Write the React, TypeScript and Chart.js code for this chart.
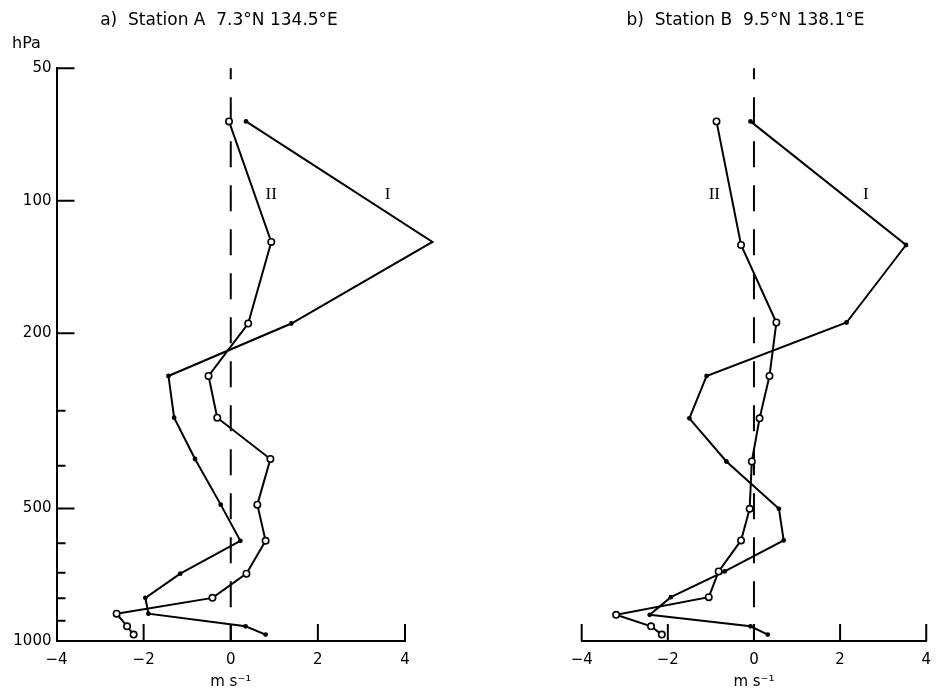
import React, { useEffect, useRef } from 'react';
import { Chart, registerables } from 'chart.js';
Chart.register(...registerables);

// ---- data ----
const pressureA = [66, 124, 190, 250, 311, 386, 490, 592, 703, 798, 867, 926, 967];
const pressureB = [66, 126, 189, 250, 312, 391, 501, 591, 695, 795, 872, 926, 967];
const stationA_I = [0.35, 4.63, 1.39, -1.43, -1.3, -0.82, -0.23, 0.22, -1.16, -1.96, -1.89, 0.34, 0.8];
const stationA_II = [-0.04, 0.93, 0.4, -0.51, -0.31, 0.91, 0.61, 0.8, 0.36, -0.42, -2.62, -2.38, -2.23];
const stationB_I = [-0.08, 3.53, 2.15, -1.1, -1.5, -0.64, 0.58, 0.69, -0.68, -1.93, -2.42, -0.08, 0.32];
const stationB_II = [-0.87, -0.3, 0.52, 0.36, 0.13, -0.05, -0.1, -0.3, -0.82, -1.05, -3.2, -2.39, -2.14];
const xTicks = [-4, -2, 0, 2, 4];
const yMajorTicks = [50, 100, 200, 500, 1000];
const yMinorTicks = [300, 400, 600, 700, 800, 900];
const titleA = 'a)  Station A  7.3°N 134.5°E';
const titleB = 'b)  Station B  9.5°N 138.1°E';
const unitX = 'm s⁻¹';
const unitY = 'hPa';
const curveLabelsA = [
  { text: 'II', x: 0.93, p: 97 },
  { text: 'I', x: 3.6, p: 97 },
];
const curveLabelsB = [
  { text: 'II', x: -0.92, p: 97 },
  { text: 'I', x: 2.6, p: 97 },
];

Chart.defaults.font.family = '"DejaVu Sans", sans-serif';
Chart.defaults.color = '#000';

const fmtMinus = (v: number) => (v < 0 ? '\u2212' + Math.abs(v) : String(v));

const decorPlugin = {
  id: 'decor',
  beforeDatasetsDraw(chart: any) {
    const { ctx, chartArea, scales } = chart;
    const x0 = scales.x.getPixelForValue(0);
    ctx.save();
    ctx.strokeStyle = '#000';
    ctx.lineWidth = 2;
    ctx.setLineDash([26, 18]);
    ctx.lineDashOffset = 15;
    ctx.beginPath();
    ctx.moveTo(x0, chartArea.top);
    ctx.lineTo(x0, chartArea.bottom);
    ctx.stroke();
    ctx.restore();
  },
  afterDatasetsDraw(chart: any, _args: any, opts: any) {
    const { ctx, chartArea, scales } = chart;
    const xs = scales.x;
    const ys = scales.y;
    ctx.save();
    ctx.strokeStyle = '#000';
    ctx.lineWidth = 2;
    ctx.beginPath();
    for (const v of xTicks) {
      if (opts.showY && v === -4) continue;
      const px = xs.getPixelForValue(v);
      ctx.moveTo(px, chartArea.bottom);
      ctx.lineTo(px, chartArea.bottom - 17);
    }
    if (opts.showY) {
      for (const v of yMajorTicks) {
        const py = ys.getPixelForValue(v);
        ctx.moveTo(chartArea.left, py);
        ctx.lineTo(chartArea.left + 18, py);
      }
      for (const v of yMinorTicks) {
        const py = ys.getPixelForValue(v);
        ctx.moveTo(chartArea.left, py);
        ctx.lineTo(chartArea.left + 9, py);
      }
    }
    ctx.stroke();
    ctx.fillStyle = '#000';
    ctx.font = '17px "Liberation Serif", serif';
    ctx.textAlign = 'center';
    ctx.textBaseline = 'middle';
    for (const lab of opts.labels || []) {
      ctx.fillText(lab.text, xs.getPixelForValue(lab.x), ys.getPixelForValue(lab.p));
    }
    if (opts.showY) {
      ctx.font = '16px "DejaVu Sans", sans-serif';
      ctx.textAlign = 'left';
      ctx.textBaseline = 'alphabetic';
      ctx.fillText(unitY, 12, 48);
    }
    ctx.restore();
  },
};

function makeConfig(
  title: string,
  pressure: number[],
  seriesI: number[],
  seriesII: number[],
  labels: any[],
  showY: boolean,
  padLeft: number,
  padRight: number,
  yWidth: number,
  y2Width: number
): any {
  const ptsI = seriesI.map((v, i) => ({ x: v, y: pressure[i] }));
  const ptsII = seriesII.map((v, i) => ({ x: v, y: pressure[i] }));
  const scales: any = {
    x: {
      type: 'linear',
      min: -4,
      max: 4,
      afterBuildTicks: (s: any) => {
        s.ticks = xTicks.map((v) => ({ value: v }));
      },
      afterFit: (s: any) => {
        s.height = 51;
      },
      grid: { display: false, drawTicks: false },
      border: { display: true, color: '#000', width: 2 },
      ticks: {
        padding: 10,
        font: { size: 15 },
        color: '#000',
        maxRotation: 0,
        autoSkip: false,
        callback: (v: any) => fmtMinus(Number(v)),
      },
      title: {
        display: true,
        text: unitX,
        color: '#000',
        font: { size: 15 },
        padding: { top: 0, bottom: 1 },
      },
    },
    y: {
      type: 'logarithmic',
      position: 'left',
      min: 50,
      max: 1000,
      reverse: true,
      afterBuildTicks: (s: any) => {
        s.ticks = [...yMajorTicks, ...yMinorTicks].sort((a, b) => a - b).map((v) => ({ value: v }));
      },
      afterFit: (s: any) => {
        s.width = yWidth;
      },
      grid: { display: false, drawTicks: false },
      border: { display: showY, color: '#000', width: 2 },
      ticks: {
        display: showY,
        padding: 5,
        font: { size: 15 },
        color: '#000',
        autoSkip: false,
        callback: (v: any) => (yMajorTicks.includes(Number(v)) ? String(v) : ''),
      },
    },
  };
  if (y2Width > 0) {
    scales.ySpacer = {
      type: 'linear',
      position: 'right',
      min: 0,
      max: 1,
      afterFit: (s: any) => {
        s.width = y2Width;
      },
      grid: { display: false, drawTicks: false },
      border: { display: false },
      ticks: { display: false },
    };
  }
  return {
    type: 'line',
    data: {
      datasets: [
        {
          label: 'II',
          data: ptsII,
          borderColor: '#000',
          borderWidth: 2,
          pointRadius: 3.2,
          pointBorderWidth: 1.6,
          pointBackgroundColor: '#fff',
          pointBorderColor: '#000',
          fill: false,
          tension: 0,
          clip: false,
          xAxisID: 'x',
          yAxisID: 'y',
        },
        {
          label: 'I',
          data: ptsI,
          borderColor: '#000',
          borderWidth: 2,
          pointRadius: 2.4,
          pointBorderWidth: 0,
          pointBackgroundColor: '#000',
          fill: false,
          tension: 0,
          clip: false,
          xAxisID: 'x',
          yAxisID: 'y',
        },
      ],
    },
    options: {
      responsive: false,
      animation: false,
      events: [],
      layout: { padding: { left: padLeft, right: padRight, top: 0, bottom: 0 } },
      plugins: {
        legend: { display: false },
        tooltip: { enabled: false },
        title: {
          display: true,
          text: title,
          color: '#000',
          font: { size: 17, weight: 'normal', family: '"DejaVu Sans", sans-serif', lineHeight: 1.2 },
          padding: { top: 10, bottom: 37.9 },
        },
        decor: { showY, labels },
      },
      scales,
    },
    plugins: [decorPlugin],
  };
}

function Panel(props: { left: number; width: number; config: any }) {
  const ref = useRef<HTMLCanvasElement>(null);
  useEffect(() => {
    if (!ref.current) return;
    const chart = new Chart(ref.current, props.config);
    return () => chart.destroy();
  }, []);
  return (
    <canvas
      ref={ref}
      width={props.width}
      height={692}
      style={{ position: 'absolute', left: props.left, top: 0, width: props.width, height: 692 }}
    />
  );
}

export default function App() {
  const cfgA = makeConfig(titleA, pressureA, stationA_I, stationA_II, curveLabelsA, true, 0, 32, 56.5, 33);
  const cfgB = makeConfig(titleB, pressureB, stationB_I, stationB_II, curveLabelsB, false, 87.7, 7.7, 24, 0);
  return (
    <div style={{ position: 'absolute', left: 0, top: 0, width: 941, height: 692, background: '#fff', overflow: 'hidden' }}>
      <Panel left={0} width={470} config={cfgA} />
      <Panel left={470} width={471} config={cfgB} />
    </div>
  );
}
